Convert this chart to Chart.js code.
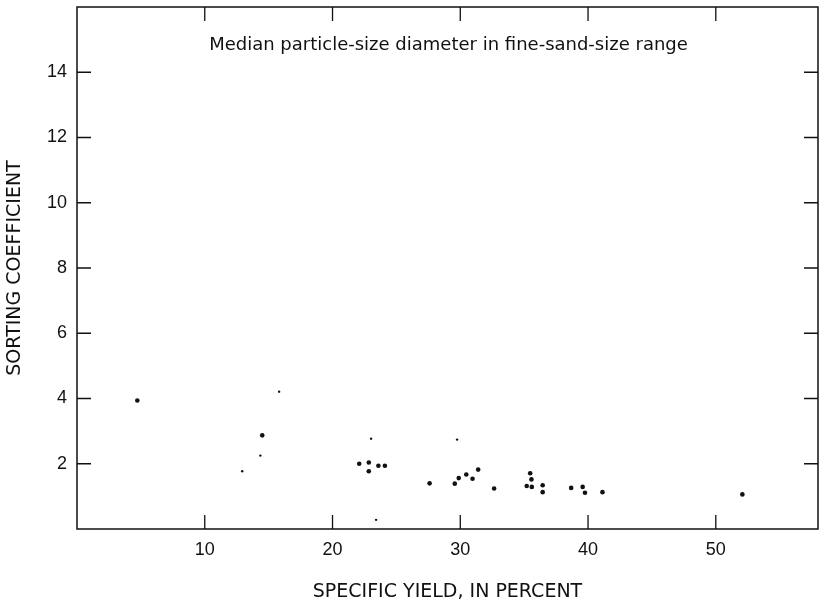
<!DOCTYPE html>
<html>
<head>
<meta charset="utf-8">
<script src="https://cdn.jsdelivr.net/npm/chart.js@4.4.1/dist/chart.umd.min.js"></script>
<style>
  html, body { margin: 0; padding: 0; background: #fff; }
  #wrap { width: 822px; height: 606px; }
</style>
</head>
<body>
<div id="wrap"><canvas id="c" width="822" height="606"></canvas></div>
<script>
// Specific yield (%) and sorting coefficient, large dots
const bigYield   = [4.72, 14.5, 22.09, 22.84, 22.84, 23.59, 24.1, 27.6, 29.57, 29.88, 30.47, 30.96, 31.4, 32.65, 35.47, 35.57, 35.2, 35.6, 36.45, 36.45, 38.68, 39.58, 39.76, 41.13, 52.08];
const bigSorting = [3.94, 2.87, 2.00, 2.04, 1.77, 1.94, 1.94, 1.40, 1.39, 1.56, 1.67, 1.54, 1.82, 1.24, 1.71, 1.52, 1.32, 1.29, 1.34, 1.13, 1.26, 1.29, 1.11, 1.13, 1.06];
// small dots
const smallYield   = [15.82, 14.35, 12.93, 23.02, 23.41, 29.75];
const smallSorting = [4.21, 2.25, 1.77, 2.77, 0.28, 2.74];

const xTicks = [10, 20, 30, 40, 50];
const yTicks = [2, 4, 6, 8, 10, 12, 14];
const xRange = [0, 58];
const yRange = [0, 16];

const titleText = 'Median particle-size diameter in fine-sand-size range';
const xTitle = 'SPECIFIC YIELD, IN PERCENT';
const yTitle = 'SORTING COEFFICIENT';

const FONT = "'Liberation Sans', Arial, sans-serif";
const WFONT = "'DejaVu Sans', sans-serif";

const toPts = (xs, ys) => xs.map((x, i) => ({ x: x, y: ys[i] }));

const framePlugin = {
  id: 'frame',
  afterDraw(chart) {
    const { ctx, chartArea: a, scales } = chart;
    const xs = scales.x, ys = scales.y;
    ctx.save();
    ctx.strokeStyle = '#111';
    ctx.lineWidth = 1.5;
    ctx.strokeRect(a.left, a.top, a.right - a.left, a.bottom - a.top);
    ctx.lineWidth = 1.3;
    const L = 14;
    ctx.beginPath();
    xTicks.forEach(v => {
      const px = xs.getPixelForValue(v);
      ctx.moveTo(px, a.bottom); ctx.lineTo(px, a.bottom - L);
      ctx.moveTo(px, a.top); ctx.lineTo(px, a.top + L);
    });
    yTicks.forEach(v => {
      const py = ys.getPixelForValue(v);
      ctx.moveTo(a.left, py); ctx.lineTo(a.left + L, py);
      ctx.moveTo(a.right, py); ctx.lineTo(a.right - L, py);
    });
    ctx.stroke();
    ctx.fillStyle = '#111';
    ctx.font = '18px ' + WFONT;
    ctx.textAlign = 'center';
    ctx.textBaseline = 'middle';
    ctx.fillText(titleText, (a.left + a.right) / 2 + 1, 45);
    ctx.restore();
  }
};

new Chart(document.getElementById('c'), {
  type: 'scatter',
  data: {
    datasets: [
      { data: toPts(bigYield, bigSorting), pointRadius: 2.3, pointBackgroundColor: '#111', pointBorderWidth: 0, showLine: false },
      { data: toPts(smallYield, smallSorting), pointRadius: 1.2, pointBackgroundColor: '#111', pointBorderWidth: 0, showLine: false }
    ]
  },
  options: {
    responsive: false,
    animation: false,
    layout: { padding: { top: 7, right: -1, left: 0, bottom: 0 } },
    plugins: { legend: { display: false }, tooltip: { enabled: false } },
    scales: {
      x: {
        type: 'linear', min: xRange[0], max: xRange[1],
        afterBuildTicks: s => { s.ticks = xTicks.map(v => ({ value: v })); },
        afterFit: s => { s.height = 77; s.paddingLeft = 0; s.paddingRight = 0; },
        grid: { display: false, drawTicks: false },
        border: { display: false },
        ticks: { color: '#111', font: { family: FONT, size: 18 }, padding: 10 },
        title: { display: true, text: xTitle, color: '#111', font: { family: WFONT, size: 19 }, padding: { top: 0, bottom: 3 } }
      },
      y: {
        type: 'linear', min: yRange[0], max: yRange[1],
        afterBuildTicks: s => { s.ticks = yTicks.map(v => ({ value: v })); },
        afterFit: s => { s.width = 77; s.paddingTop = 0; s.paddingBottom = 0; },
        grid: { display: false, drawTicks: false },
        border: { display: false },
        ticks: { color: '#111', font: { family: FONT, size: 18 }, padding: 10 },
        title: { display: true, text: yTitle, color: '#111', font: { family: WFONT, size: 19 }, padding: { top: 4, bottom: 0 } }
      }
    }
  },
  plugins: [framePlugin]
});
</script>
</body>
</html>
